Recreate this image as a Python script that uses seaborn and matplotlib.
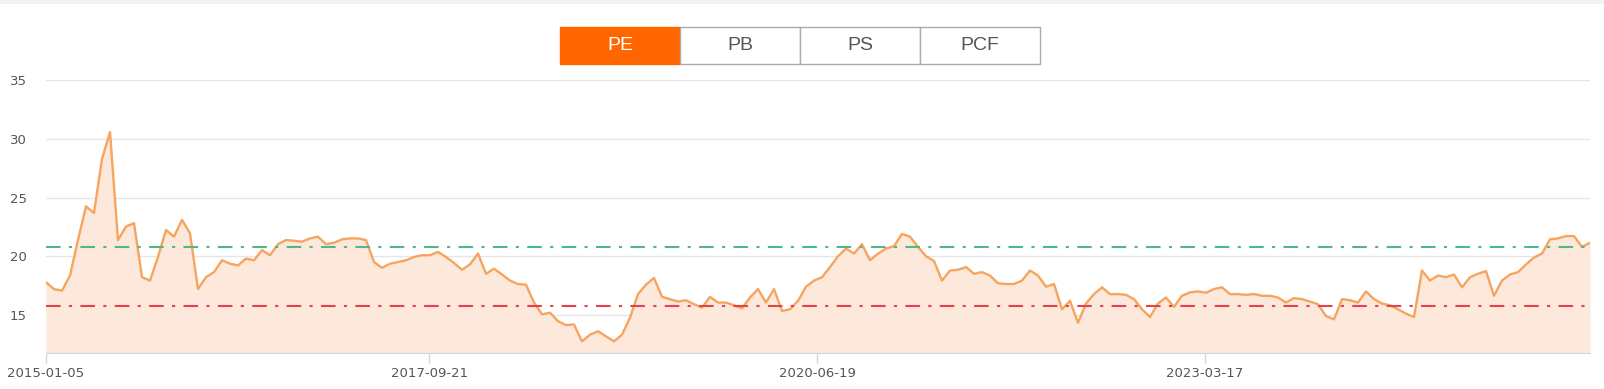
import pandas as pd
import numpy as np
import matplotlib.pyplot as plt
import seaborn as sns
from matplotlib.patches import Rectangle

# PE readings, sampled at even steps from 2015-01-05 to the end of 2025
pe = [
    17.79, 17.21, 17.07, 18.36, 21.38, 24.25, 23.68, 28.28, 30.57, 21.38,
    22.53, 22.82, 18.22, 17.93, 19.94, 22.24, 21.67, 23.10, 21.95, 17.21,
    18.22, 18.65, 19.66, 19.37, 19.22, 19.80, 19.66, 20.52,
    20.09, 21.03, 21.38, 21.32, 21.24, 21.52, 21.67, 21.03, 21.15, 21.44,
    21.52, 21.52, 21.38, 19.51, 19.02, 19.37, 19.51, 19.66, 19.94, 20.09,
    20.09, 20.37, 19.94, 19.43, 18.85, 19.31, 20.23, 18.51, 18.94,
    18.45, 17.93, 17.64, 17.59, 16.06, 15.06, 15.20, 14.48, 14.14, 14.20,
    12.76, 13.33, 13.62, 13.19, 12.76, 13.33, 14.77, 16.78, 17.59, 18.16,
    16.55, 16.35, 16.15, 16.26, 15.92, 15.63, 16.55, 16.06,
    16.06, 15.83, 15.57, 16.49, 17.21, 16.06, 17.21, 15.35, 15.49, 16.21,
    17.41, 17.93, 18.22, 19.08, 20.00, 20.66, 20.23, 21.03, 19.66, 20.23,
    20.66, 20.86, 21.90, 21.67, 20.80, 20.00, 19.60, 17.93,
    18.79, 18.85, 19.08, 18.51, 18.65, 18.36, 17.70, 17.64, 17.64, 17.93,
    18.79, 18.36, 17.41, 17.64, 15.49, 16.21, 14.34, 15.98, 16.78, 17.36,
    16.78, 16.78, 16.72, 16.35, 15.49, 14.83, 15.98, 16.49,
    15.69, 16.64, 16.93, 17.01, 16.90, 17.21, 17.36, 16.78, 16.78, 16.72,
    16.78, 16.64, 16.64, 16.49, 16.06, 16.44, 16.35, 16.15, 15.92, 14.91,
    14.63, 16.35, 16.26, 16.06, 17.01, 16.35, 15.98, 15.83,
    15.49, 15.12, 14.83, 18.79, 17.93, 18.36, 18.22, 18.45, 17.36, 18.22,
    18.51, 18.74, 16.64, 17.93, 18.45, 18.65, 19.31, 19.89, 20.23, 21.44,
    21.52, 21.72, 21.72, 20.80, 21.15,
]
start_date = "2015-01-05"
end_date = "2025-12-05"
dates = pd.date_range(start_date, end_date, periods=len(pe))
df = pd.DataFrame({"date": dates, "pe": pe})

upper_line = 20.83
lower_line = 15.77
tick_dates = ["2015-01-05", "2017-09-21", "2020-06-19", "2023-03-17"]
y_ticks = [15, 20, 25, 30, 35]
buttons = ["PE", "PB", "PS", "PCF"]

sns.set_style("white")
plt.rcParams["font.family"] = ["DejaVu Sans"]

W, H = 1604, 389
fig = plt.figure(figsize=(W / 100, H / 100), dpi=100)
ax = fig.add_axes([46 / W, 1 - 353 / H, (1590 - 46) / W, (353 - 80) / H])

# light band at the very top
fig.patches.append(Rectangle((0, 1 - 4 / H), 1, 4 / H, transform=fig.transFigure,
                             facecolor="#f2f2f2", edgecolor="none"))

ax.fill_between(df["date"], df["pe"], 11.77, color="#fde8dc", lw=0, zorder=2)
sns.lineplot(data=df, x="date", y="pe", ax=ax, color="#f5a55f", lw=1.7, zorder=3)
ax.axhline(upper_line, color="#4fb886", lw=1.5, dashes=(7, 4, 1.5, 4), zorder=4)
ax.axhline(lower_line, color="#e5434b", lw=1.5, dashes=(7, 4, 1.5, 4), zorder=4)

ax.set_ylim(11.77, 35)
ax.set_xlim(pd.Timestamp(start_date), pd.Timestamp(end_date))
ax.set_yticks(y_ticks)
ax.set_xticks(pd.to_datetime(tick_dates))
ax.set_xticklabels(tick_dates)
ax.grid(axis="y", color="#e6e6e6", lw=1, zorder=0)
ax.set_axisbelow(True)
for s in ["top", "right", "left"]:
    ax.spines[s].set_visible(False)
ax.spines["bottom"].set_color("#ccd6eb")
ax.spines["bottom"].set_zorder(5)
ax.tick_params(axis="y", length=0, pad=14, labelsize=9.5, labelcolor="#555555")
ax.tick_params(axis="x", length=7, width=1, color="#ccd6eb", pad=3,
               labelsize=9.5, labelcolor="#555555", bottom=True)
ax.set_xlabel("")
ax.set_ylabel("")

# selector buttons
for i, name in enumerate(buttons):
    x0 = 560 + i * 120
    active = i == 0
    fig.patches.append(Rectangle((x0 / W, 1 - 64 / H), 120 / W, 37 / H,
                                 transform=fig.transFigure,
                                 facecolor="#ff6600" if active else "white",
                                 edgecolor="#ff6600" if active else "#aaaaaa", lw=1))
    fig.text((x0 + 60) / W, 1 - 45.5 / H, name, ha="center", va="center",
             fontsize=14, family="Liberation Sans",
             color="white" if active else "#555555")

fig.savefig("out.png", dpi=100)
